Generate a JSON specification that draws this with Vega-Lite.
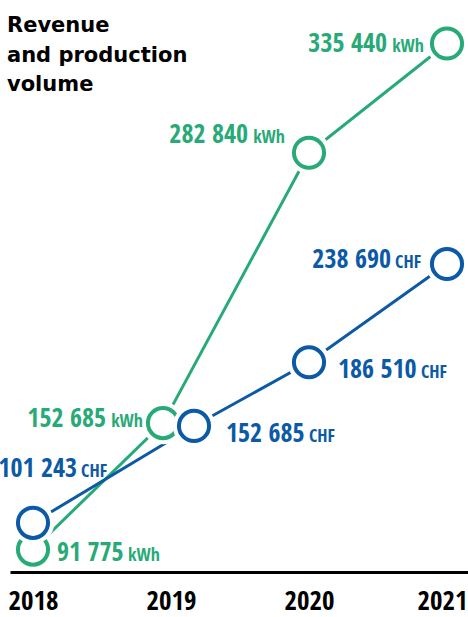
{
  "$schema": "https://vega.github.io/schema/vega-lite/v6.json",
  "width": 458,
  "height": 572,
  "autosize": "none",
  "padding": {"left": 10, "top": 0, "right": 0, "bottom": 45},
  "background": "white",
  "config": {
    "view": {"stroke": null},
    "locale": {"number": {"decimal": ".", "thousands": " ", "grouping": [3], "currency": ["", ""]}}
  },
  "title": {
    "text": ["Revenue", "and production", "volume"],
    "anchor": "start",
    "frame": "group",
    "orient": "top",
    "font": "DejaVu Sans",
    "fontWeight": "bold",
    "fontSize": 21,
    "lineHeight": 29.5,
    "color": "black",
    "offset": -95,
    "dx": -3
  },
  "data": {
    "values": [
      {"year": 2018, "series": "Production volume", "unit": "kWh", "value": 91775},
      {"year": 2019, "series": "Production volume", "unit": "kWh", "value": 152685},
      {"year": 2020, "series": "Production volume", "unit": "kWh", "value": 282840},
      {"year": 2021, "series": "Production volume", "unit": "kWh", "value": 335440},
      {"year": 2018, "series": "Revenue", "unit": "CHF", "value": 101243},
      {"year": 2019, "series": "Revenue", "unit": "CHF", "value": 152685},
      {"year": 2020, "series": "Revenue", "unit": "CHF", "value": 186510},
      {"year": 2021, "series": "Revenue", "unit": "CHF", "value": 238690}
    ]
  },
  "encoding": {
    "x": {
      "field": "year",
      "type": "quantitative",
      "scale": {"domain": [2017.83333, 2021.15217], "nice": false, "zero": false},
      "axis": {
        "title": null,
        "values": [2018, 2019, 2020, 2021],
        "format": "d",
        "grid": false,
        "ticks": false,
        "tickSize": 0,
        "domain": true,
        "domainColor": "black",
        "domainWidth": 3,
        "labelFont": "Open Sans Condensed",
        "labelFontWeight": "bold",
        "labelFontSize": 27,
        "labelColor": "black",
        "labelBaseline": "alphabetic",
        "labelPadding": 37,
        "labelOffset": {"condition": {"test": "datum.value == 2021", "value": -5}, "value": 0}
      }
    }
  },
  "layer": [
    {
      "transform": [{"filter": "datum.unit == 'kWh'"}],
      "mark": {"type": "line", "color": "#28aa78", "strokeWidth": 3, "xOffset": {"expr": "datum.year == 2019 ? -8 : 0"}},
      "encoding": {"y": {"field": "value", "type": "quantitative", "scale": {"domain": [80990, 356400], "zero": false, "nice": false}, "axis": null}}
    },
    {
      "transform": [{"filter": "datum.unit == 'CHF'"}],
      "mark": {"type": "line", "color": "#0c5aa5", "strokeWidth": 3, "xOffset": {"expr": "datum.year == 2019 ? 23 : 0"}},
      "encoding": {"y": {"field": "value", "type": "quantitative", "scale": {"domain": [75120, 378880], "zero": false, "nice": false}, "axis": null}}
    },
    {
      "transform": [{"filter": "datum.unit == 'kWh'"}],
      "mark": {"type": "point", "shape": "circle", "filled": true, "color": "white", "opacity": 1, "size": 1810, "strokeWidth": 0, "xOffset": {"expr": "datum.year == 2019 ? -8 : 0"}},
      "encoding": {"y": {"field": "value", "type": "quantitative", "scale": {"domain": [80990, 356400], "zero": false, "nice": false}, "axis": null}}
    },
    {
      "transform": [{"filter": "datum.unit == 'kWh'"}],
      "mark": {"type": "point", "shape": "circle", "filled": false, "color": "#28aa78", "opacity": 1, "size": 908, "strokeWidth": 4, "xOffset": {"expr": "datum.year == 2019 ? -8 : 0"}},
      "encoding": {"y": {"field": "value", "type": "quantitative", "scale": {"domain": [80990, 356400], "zero": false, "nice": false}, "axis": null}}
    },
    {
      "transform": [{"filter": "datum.unit == 'CHF'"}],
      "mark": {"type": "point", "shape": "circle", "filled": true, "color": "white", "opacity": 1, "size": 1810, "strokeWidth": 0, "xOffset": {"expr": "datum.year == 2019 ? 23 : 0"}},
      "encoding": {"y": {"field": "value", "type": "quantitative", "scale": {"domain": [75120, 378880], "zero": false, "nice": false}, "axis": null}}
    },
    {
      "transform": [{"filter": "datum.unit == 'CHF'"}],
      "mark": {"type": "point", "shape": "circle", "filled": false, "color": "#0c5aa5", "opacity": 1, "size": 908, "strokeWidth": 4, "xOffset": {"expr": "datum.year == 2019 ? 23 : 0"}},
      "encoding": {"y": {"field": "value", "type": "quantitative", "scale": {"domain": [75120, 378880], "zero": false, "nice": false}, "axis": null}}
    },
    {
      "transform": [{"filter": "datum.unit == 'kWh'"}],
      "mark": {
        "type": "text", "font": "Open Sans Condensed", "fontWeight": "bold", "fontSize": 26, "color": "#28aa78", "baseline": "alphabetic",
        "xOffset": {"expr": "datum.year == 2019 ? -8 : 0"},
        "align": {"expr": "datum.year == 2018 ? 'left' : 'right'"},
        "dx": {"expr": "datum.year == 2018 ? 24 : datum.year == 2019 ? -57 : datum.year == 2020 ? -61 : -60"},
        "dy": {"expr": "datum.year == 2018 ? 11 : datum.year == 2019 ? 4 : datum.year == 2020 ? -10 : 8"}
      },
      "encoding": {
        "y": {"field": "value", "type": "quantitative", "scale": {"domain": [80990, 356400], "zero": false, "nice": false}, "axis": null},
        "text": {"field": "value", "type": "quantitative", "format": ",d"}
      }
    },
    {
      "transform": [{"filter": "datum.unit == 'kWh'"}],
      "mark": {
        "type": "text", "font": "Open Sans Condensed", "fontWeight": "bold", "fontSize": 18, "color": "#28aa78", "baseline": "alphabetic",
        "xOffset": {"expr": "datum.year == 2019 ? -8 : 0"},
        "align": {"expr": "datum.year == 2018 ? 'left' : 'right'"},
        "dx": {"expr": "datum.year == 2018 ? 95 : datum.year == 2019 ? -20 : datum.year == 2020 ? -24 : -23"},
        "dy": {"expr": "datum.year == 2018 ? 11 : datum.year == 2019 ? 4 : datum.year == 2020 ? -10 : 8"}
      },
      "encoding": {
        "y": {"field": "value", "type": "quantitative", "scale": {"domain": [80990, 356400], "zero": false, "nice": false}, "axis": null},
        "text": {"field": "unit", "type": "nominal"}
      }
    },
    {
      "transform": [{"filter": "datum.unit == 'CHF'"}],
      "mark": {
        "type": "text", "font": "Open Sans Condensed", "fontWeight": "bold", "fontSize": 26, "color": "#0c5aa5", "baseline": "alphabetic",
        "xOffset": {"expr": "datum.year == 2019 ? 23 : 0"},
        "align": {"expr": "datum.year == 2019 || datum.year == 2020 ? 'left' : 'right'"},
        "dx": {"expr": "datum.year == 2018 ? 44 : datum.year == 2019 ? 32 : datum.year == 2020 ? 29 : -56"},
        "dy": {"expr": "datum.year == 2018 ? -46 : datum.year == 2019 ? 16 : datum.year == 2020 ? 16 : 4"}
      },
      "encoding": {
        "y": {"field": "value", "type": "quantitative", "scale": {"domain": [75120, 378880], "zero": false, "nice": false}, "axis": null},
        "text": {"field": "value", "type": "quantitative", "format": ",d"}
      }
    },
    {
      "transform": [{"filter": "datum.unit == 'CHF'"}],
      "mark": {
        "type": "text", "font": "Open Sans Condensed", "fontWeight": "bold", "fontSize": 18, "color": "#0c5aa5", "baseline": "alphabetic",
        "xOffset": {"expr": "datum.year == 2019 ? 23 : 0"},
        "align": {"expr": "datum.year == 2019 || datum.year == 2020 ? 'left' : 'right'"},
        "dx": {"expr": "datum.year == 2018 ? 74 : datum.year == 2019 ? 115 : datum.year == 2020 ? 112 : -26"},
        "dy": {"expr": "datum.year == 2018 ? -46 : datum.year == 2019 ? 16 : datum.year == 2020 ? 16 : 4"}
      },
      "encoding": {
        "y": {"field": "value", "type": "quantitative", "scale": {"domain": [75120, 378880], "zero": false, "nice": false}, "axis": null},
        "text": {"field": "unit", "type": "nominal"}
      }
    }
  ],
  "resolve": {"scale": {"y": "independent"}}
}
